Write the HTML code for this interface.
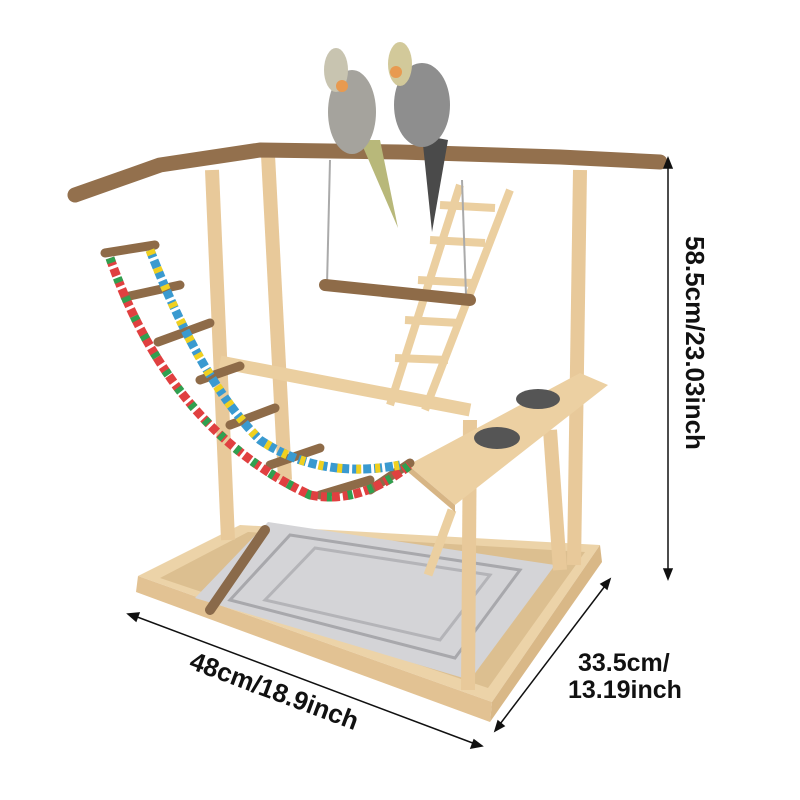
<!DOCTYPE html>
<html><head><meta charset="utf-8"><style>
html,body{margin:0;padding:0;background:#fff;}
svg{display:block}
text{font-family:"Liberation Sans",sans-serif;fill:#111;}
</style></head><body>
<svg width="800" height="800" viewBox="0 0 800 800" xmlns="http://www.w3.org/2000/svg">
<rect width="800" height="800" fill="#fff"/>
<!-- base -->
<polygon points="138,576 240,525 600,545 492,702" fill="#ecd3a8"/>
<polygon points="138,576 492,702 490,722 136,592" fill="#e2c293"/>
<polygon points="492,702 600,545 602,562 490,722" fill="#d9b887"/>
<polygon points="160,578 248,532 585,552 488,688" fill="#dcbf90"/>
<!-- tray -->
<polygon points="195,598 268,522 555,565 470,680" fill="#d4d4d7"/>
<polygon points="230,600 290,535 520,570 455,658" fill="none" stroke="#a8a8ac" stroke-width="3"/>
<polygon points="265,600 315,548 490,575 440,640" fill="none" stroke="#b4b4b8" stroke-width="3"/>
<line x1="210" y1="610" x2="265" y2="530" stroke="#8a6a4a" stroke-width="10" stroke-linecap="round"/>
<!-- posts -->
<g stroke="#e8c99a" stroke-width="14" stroke-linecap="butt">
<line x1="212" y1="170" x2="228" y2="540"/>
<line x1="268" y1="155" x2="285" y2="480"/>
<line x1="580" y1="170" x2="574" y2="565"/>
<line x1="470" y1="420" x2="468" y2="690"/>
<line x1="550" y1="430" x2="560" y2="570"/>
</g>
<line x1="220" y1="362" x2="470" y2="410" stroke="#ebcfa0" stroke-width="13"/>
<line x1="452" y1="510" x2="428" y2="575" stroke="#ebcfa0" stroke-width="9"/>
<!-- ladder -->
<g stroke="#ebcfa0" stroke-width="8">
<line x1="390" y1="405" x2="460" y2="185"/>
<line x1="425" y1="410" x2="510" y2="190"/>
<line x1="440" y1="205" x2="495" y2="208"/>
<line x1="430" y1="240" x2="485" y2="243"/>
<line x1="418" y1="280" x2="472" y2="283"/>
<line x1="405" y1="320" x2="460" y2="323"/>
<line x1="395" y1="358" x2="448" y2="360"/>
</g>
<!-- swing -->
<g stroke="#aaa" stroke-width="2">
<line x1="330" y1="160" x2="327" y2="285"/><line x1="462" y1="180" x2="466" y2="295"/>
</g>
<line x1="325" y1="285" x2="470" y2="300" stroke="#8e6b48" stroke-width="12" stroke-linecap="round"/>
<!-- platform -->
<polygon points="408,465 580,373 608,385 455,505" fill="#ecd0a2"/>
<polygon points="408,465 455,505 455,512 408,472" fill="#d7b585"/>
<ellipse cx="538" cy="399" rx="22" ry="10" fill="#555"/>
<ellipse cx="497" cy="438" rx="23" ry="11" fill="#555"/>
<!-- top branch -->
<path d="M75,195 L160,165 L260,150 L400,152 L560,157 L660,162" stroke="#93704d" stroke-width="15" fill="none" stroke-linecap="round" stroke-linejoin="round"/>
<!-- rope ladder -->
<g stroke="#8e6b48" stroke-width="9" stroke-linecap="round">
<line x1="105" y1="253" x2="155" y2="245"/>
<line x1="125" y1="297" x2="180" y2="285"/>
<line x1="158" y1="342" x2="210" y2="323"/>
<line x1="200" y1="380" x2="240" y2="366"/>
<line x1="230" y1="425" x2="275" y2="408"/>
<line x1="270" y1="465" x2="320" y2="448"/>
<line x1="320" y1="495" x2="370" y2="480"/>
<line x1="370" y1="490" x2="410" y2="463"/>
</g>
<path d="M110,258 Q170,430 310,495 Q360,505 410,465" stroke="#e04040" stroke-width="9" fill="none" stroke-dasharray="8 3"/>
<path d="M150,250 Q200,380 260,440 Q320,480 400,465" stroke="#3a9ad0" stroke-width="9" fill="none" stroke-dasharray="8 3"/>
<path d="M150,250 Q200,380 260,440 Q320,480 400,465" stroke="#f0d020" stroke-width="9" fill="none" stroke-dasharray="5 14"/>
<path d="M110,258 Q170,430 310,495 Q360,505 410,465" stroke="#30a050" stroke-width="9" fill="none" stroke-dasharray="5 16"/>
<!-- birds -->
<path d="M360,140 L398,228 L380,140 Z" fill="#b8b87a"/>
<ellipse cx="352" cy="112" rx="24" ry="42" fill="#a5a39d"/>
<ellipse cx="336" cy="70" rx="12" ry="22" fill="#c8c4b0"/>
<circle cx="342" cy="86" r="6" fill="#e89a50"/>
<path d="M422,135 L432,232 L448,140 Z" fill="#4a4a4a"/>
<ellipse cx="422" cy="105" rx="28" ry="42" fill="#8e8e8e"/>
<ellipse cx="400" cy="64" rx="12" ry="22" fill="#d2c99a"/>
<circle cx="396" cy="72" r="6" fill="#e89a50"/>
<!-- dimension lines -->
<g stroke="#111" stroke-width="1.5" fill="#111">
<line x1="668" y1="162" x2="668" y2="575"/>
<polygon points="668,158 664,168 672,168"/><polygon points="668,579 664,569 672,569"/>
<line x1="132" y1="615" x2="478" y2="745"/>
<polygon points="128,614 139,613 136,621"/><polygon points="482,746 471,748 474,740"/>
<line x1="497" y1="728" x2="608" y2="582"/>
<polygon points="610,579 601,584 607,589"/><polygon points="495,731 498,721 504,726"/>
</g>
<g font-weight="bold">
<text x="0" y="0" font-size="26" transform="translate(686,236) rotate(90)">58.5cm/23.03inch</text>
<text x="0" y="0" font-size="26" transform="translate(188,668) rotate(20.5)">48cm/18.9inch</text>
<text x="578" y="671" font-size="25">33.5cm/</text>
<text x="568" y="698" font-size="25">13.19inch</text>
</g>
</svg>
</body></html>
